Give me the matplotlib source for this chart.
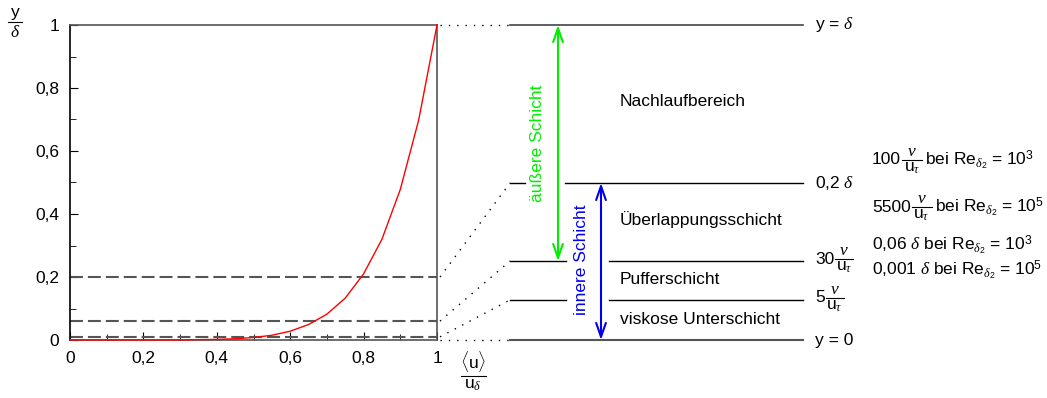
import matplotlib.pyplot as plt
from matplotlib.ticker import FuncFormatter, MultipleLocator

plt.rcParams['font.family'] = ['Liberation Sans', 'DejaVu Sans']
plt.rcParams['mathtext.fontset'] = 'custom'
plt.rcParams['mathtext.rm'] = 'Liberation Sans'
plt.rcParams['mathtext.it'] = 'Liberation Serif:italic'
plt.rcParams['mathtext.bf'] = 'Liberation Sans:bold'

FS = 12.5

# Geschwindigkeitsprofil <u>/u_delta ueber y/delta
u_rel = [0.0, 0.1, 0.2, 0.3, 0.4, 0.45, 0.5, 0.55, 0.6, 0.65, 0.7, 0.75, 0.8, 0.85, 0.9, 0.95, 1.0]
y_rel = [0.0, 0.0, 0.0, 0.0, 0.002, 0.004, 0.008, 0.015, 0.028, 0.049, 0.082, 0.133, 0.21, 0.32, 0.478, 0.698, 1.0]

# Schichtgrenzen im Diagramm (y/delta)
grenzen = [0.2, 0.06, 0.01]

# Schichtgrenzen in der Skizze (Pixelhoehe)
skizze_y = [25, 183, 261, 300, 340]
schichten = ['Nachlaufbereich', 'Überlappungsschicht', 'Pufferschicht', 'viskose Unterschicht']
schichten_y = [102, 220, 279, 319]

W, H = 1047, 398
fig = plt.figure(figsize=(W / 100, H / 100), dpi=100)
renderer = fig.canvas.get_renderer()

# Hintergrund-Achse in Pixelkoordinaten fuer die Skizze
bg = fig.add_axes([0, 0, 1, 1])
bg.set_xlim(0, W)
bg.set_ylim(H, 0)
bg.axis('off')


def bruch(x, y, vorne, hinten='', breite=20):
    """Zahl mit Bruch nu/u_tau, optional gefolgt von weiterem Text"""
    t = bg.text(x, y, vorne, fontsize=FS, ha='left', va='center')
    xa = t.get_window_extent(renderer).x1 + 1
    bg.plot([xa, xa + breite], [y, y], color='black', lw=0.8)
    bg.text(xa + breite / 2, y - 1, r'$\nu$', fontsize=FS, ha='center', va='bottom')
    bg.text(xa + breite / 2, y + 1, r'u$_\tau$', fontsize=FS, ha='center', va='top')
    if hinten:
        bg.text(xa + breite + 3, y, hinten, fontsize=FS, ha='left', va='center')


# Diagramm links
x0, x1, yt, yb = 70, 437, 25, 340
ax = fig.add_axes([x0 / W, (H - yb) / H, (x1 - x0) / W, (yb - yt) / H])
ax.set_xlim(0, 1)
ax.set_ylim(0, 1)
ax.plot(u_rel, y_rel, color='red', lw=1, clip_on=False, zorder=3)
for g in grenzen:
    ax.axhline(g, color='#555555', lw=1.5, ls=(0, (6.2, 2.4)), zorder=2)

fmt = FuncFormatter(lambda v, p: ('%g' % v).replace('.', ','))
ax.xaxis.set_major_locator(MultipleLocator(0.2))
ax.xaxis.set_minor_locator(MultipleLocator(0.1))
ax.yaxis.set_major_locator(MultipleLocator(0.2))
ax.yaxis.set_minor_locator(MultipleLocator(0.1))
ax.xaxis.set_major_formatter(fmt)
ax.yaxis.set_major_formatter(fmt)
ax.tick_params(which='both', direction='in', labelsize=FS, color='black')
ax.tick_params(which='major', length=6)
ax.tick_params(which='minor', length=4)
ax.tick_params(axis='x', pad=8)
ax.tick_params(axis='y', pad=8)
for s in ['top', 'right', 'bottom']:
    ax.spines[s].set_color('#555555')
ax.spines['left'].set_color('black')
for s in ax.spines.values():
    s.set_linewidth(1.2)

# Achsenbeschriftungen als Brueche
bg.text(15, 20, 'y', fontsize=FS, ha='center', va='bottom')
bg.plot([8, 22], [22, 22], color='black', lw=0.8)
bg.text(15, 24, r'$\delta$', fontsize=FS, ha='center', va='top')
bg.text(473, 374, r'$\langle$u$\rangle$', fontsize=FS, ha='center', va='bottom')
bg.plot([461, 486], [376, 376], color='black', lw=0.8)
bg.text(473, 378, r'u$_\delta$', fontsize=FS, ha='center', va='top')

# Verbindungslinien Diagramm -> Skizze
links_y = [yt] + [yb - g * (yb - yt) for g in grenzen] + [yb]
for ly, ry in zip(links_y, skizze_y):
    bg.plot([x1 + 3, 510], [ly, ry], color='black', lw=1, ls=(0, (1, 5)))

# Horizontale Linien der Skizze
bg.plot([510, 803], [25, 25], color='#444444', lw=1.2)
bg.plot([510, 525], [183, 183], color='black', lw=1)
bg.plot([565, 803], [183, 183], color='black', lw=1)
for yy in skizze_y[2:4]:
    bg.plot([510, 566], [yy, yy], color='black', lw=1)
    bg.plot([609, 803], [yy, yy], color='black', lw=1)
bg.plot([510, 803], [340, 340], color='#555555', lw=1.5)

# Pfeile aeussere / innere Schicht
bg.annotate('', xy=(558, 25), xytext=(558, 261),
            arrowprops=dict(arrowstyle='<->,head_length=1.0,head_width=0.35',
                            color='#00ee00', lw=1.5, shrinkA=0, shrinkB=0))
bg.annotate('', xy=(601, 183), xytext=(601, 340),
            arrowprops=dict(arrowstyle='<->,head_length=1.0,head_width=0.35',
                            color='#0000ee', lw=1.5, shrinkA=0, shrinkB=0))
bg.text(538, 143, 'äußere Schicht', color='#00ee00', rotation=90, fontsize=FS,
        ha='center', va='center')
bg.text(581, 260, 'innere Schicht', color='#0000ee', rotation=90, fontsize=FS,
        ha='center', va='center')

for txt, yy in zip(schichten, schichten_y):
    bg.text(620, yy, txt, fontsize=FS, ha='left', va='center')

# Beschriftung der Grenzen rechts
bg.text(815, 25, r'y = $\delta$', fontsize=FS, ha='left', va='center')
bg.text(815, 183, r'0,2 $\delta$', fontsize=FS, ha='left', va='center')
bruch(815, 259, '30', breite=18)
bruch(815, 298, '5', breite=18)
bg.text(815, 340, 'y = 0', fontsize=FS, ha='left', va='center')

# Werte fuer verschiedene Reynoldszahlen
bruch(872, 160, '100', r'bei Re$_{\delta_2}$ = 10$^3$')
bruch(872, 207, '5500', r'bei Re$_{\delta_2}$ = 10$^5$')
bg.text(872, 245, r'0,06 $\delta$ bei Re$_{\delta_2}$ = 10$^3$', fontsize=FS, ha='left', va='center')
bg.text(872, 270, r'0,001 $\delta$ bei Re$_{\delta_2}$ = 10$^5$', fontsize=FS, ha='left', va='center')

fig.savefig('out.png', dpi=100)
